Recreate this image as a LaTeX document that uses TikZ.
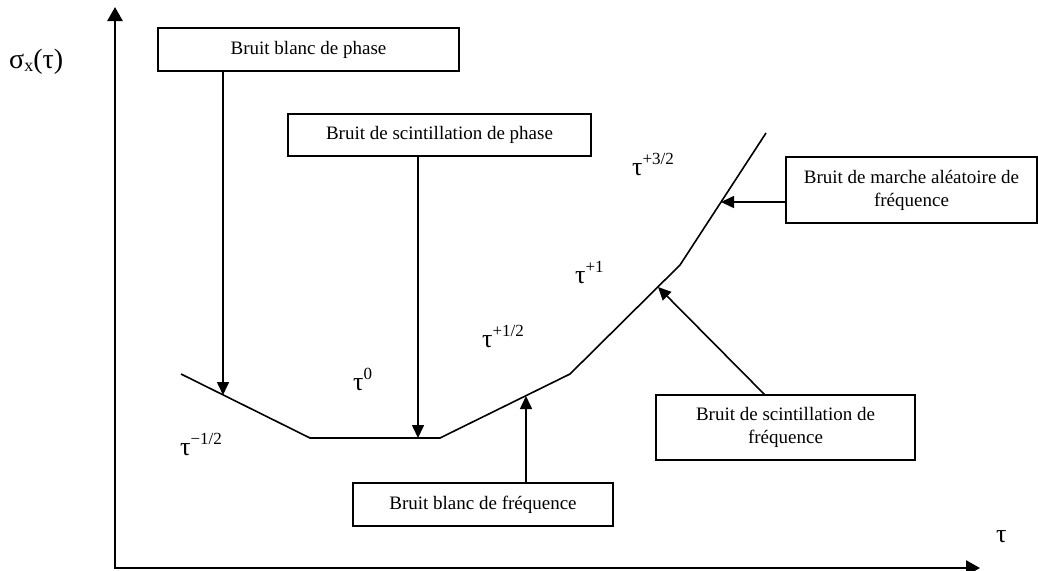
\documentclass[tikz,border=0pt]{standalone}
\usepackage{fontspec}
\setmainfont{Liberation Serif}
\usetikzlibrary{arrows.meta}
\newcommand\tpow[1]{{\fontsize{26}{30}\selectfont τ}\raisebox{11pt}{\fontsize{17}{20}\selectfont #1}}
\begin{document}
\begin{tikzpicture}[x=1pt,y=-1pt,
  box/.style={draw, line width=1.2pt, align=center, inner sep=0pt, font=\fontsize{19}{23}\selectfont},
  conn/.style={line width=1.6pt, -{Triangle[length=13pt,width=12pt]}},
  axis/.style={line width=2.6pt, {Triangle[length=14pt,width=15pt]}-{Triangle[length=14pt,width=15pt]}},
  curve/.style={line width=1.6pt, line join=miter},
  lbl/.style={inner sep=0pt, anchor=base west}]
\useasboundingbox (0,0) rectangle (1038,570);
% axes
\coordinate (o) at (115,568);
\coordinate (ytip) at (115,7);
\coordinate (xtip) at (980,568);
\draw[axis] (ytip) -- (o) -- (xtip);
% curve
\coordinate (c1) at (181,374);
\coordinate (c2) at (310,438);
\coordinate (c3) at (440,438);
\coordinate (c4) at (570,374);
\coordinate (c5) at (680,265);
\coordinate (c6) at (766,133);
\draw[curve] (c1) -- (c2) -- (c3) -- (c4) -- (c5) -- (c6);
% arrow targets on the curve
\coordinate (p1) at (223,395);
\coordinate (p2) at (418,438);
\coordinate (p3) at (721,202);
\coordinate (p4) at (658,287);
\coordinate (p5) at (526,396);
\coordinate (s4) at (765,395);
% boxes
\node[box, minimum width=301pt, minimum height=43pt] (b1) at (308.5,49.5) {Bruit blanc de phase};
\node[box, minimum width=303pt, minimum height=42pt] (b2) at (439.5,135) {Bruit de scintillation de phase};
\node[box, minimum width=251pt, minimum height=66pt] (b3) at (911.5,190) {Bruit de marche aléatoire de\\fréquence};
\node[box, minimum width=259pt, minimum height=65pt] (b4) at (785.5,427.5) {Bruit de scintillation de\\fréquence};
\node[box, minimum width=260pt, minimum height=43pt] (b5) at (483,504.5) {Bruit blanc de fréquence};
% connectors
\draw[conn] (b1.south -| p1) -- (p1);
\draw[conn] (b2.south -| p2) -- (p2);
\draw[conn] (b3.west |- p3) -- (p3);
\draw[conn] (s4) -- (p4);
\draw[conn] (b5.north -| p5) -- (p5);
% labels
\node[lbl] (t1) at (180,455) {\tpow{−1/2}};
\node[lbl] (t0) at (353,390) {\tpow{0}};
\node[lbl] (t2) at (482,347) {\tpow{+1/2}};
\node[lbl] (t3) at (575,283) {\tpow{+1}};
\node[lbl] (t4) at (632,175) {\tpow{+3/2}};
\node[lbl] (tx) at (996,542) {\fontsize{26}{30}\selectfont τ};
\node[lbl] (sig) at (9,68) {{\fontsize{28}{32}\selectfont σ}\raisebox{-3pt}{\fontsize{18}{20}\selectfont x}{\fontsize{28}{32}\selectfont (τ)}};
\end{tikzpicture}
\end{document}
